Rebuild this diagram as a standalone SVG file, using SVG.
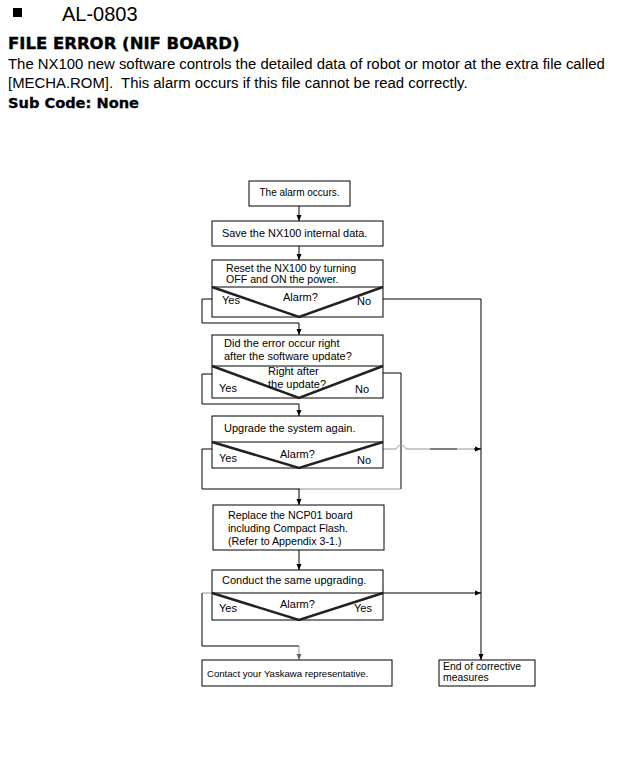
<svg xmlns="http://www.w3.org/2000/svg" width="644" height="760" viewBox="0 0 644 760">
<style>
  .t { font-family: "Liberation Sans", Arial, sans-serif; fill: #000; }
  .lb { font-family: "Liberation Sans", Arial, sans-serif; font-size: 11px; fill: #000; }
  .body { font-family: "Liberation Sans", Arial, sans-serif; font-size: 14.9px; fill: #000; }
  .hd { font-family: "DejaVu Sans", "Liberation Sans", sans-serif; font-weight: bold; fill: #000; }
  .box { fill: #fff; stroke: #000; stroke-width: 1; }
  .v { fill: none; stroke: #222; stroke-width: 2.5; stroke-linejoin: miter; }
  .ln { fill: none; stroke: #000; stroke-width: 1; }
  .gr { fill: none; stroke: #999; stroke-width: 1; }
</style>
<defs>
  <marker id="ah" markerUnits="userSpaceOnUse" markerWidth="6" markerHeight="6" refX="6" refY="3" orient="auto">
    <path d="M0,0.5 L6,3 L0,5.5 z" fill="#000"/>
  </marker>
  <marker id="ahg" markerUnits="userSpaceOnUse" markerWidth="6" markerHeight="6" refX="6" refY="3" orient="auto">
    <path d="M0,0.5 L6,3 L0,5.5 z" fill="#666"/>
  </marker>
</defs>
<rect width="644" height="760" fill="#fff"/>

<g id="header">
  <rect x="13" y="8" width="9" height="9" fill="#000"/>
  <text x="62" y="21" font-family="Liberation Sans, Arial, sans-serif" font-size="20">AL-0803</text>
  <text class="hd" x="8" y="49" font-size="16.5" stroke="#000" stroke-width="0.4">FILE ERROR (NIF BOARD)</text>
  <text class="body" x="8" y="69">The NX100 new software controls the detailed data of robot or motor at the extra file called</text>
  <text class="body" x="8" y="88" xml:space="preserve">[MECHA.ROM].  This alarm occurs if this file cannot be read correctly.</text>
  <text class="hd" x="8" y="108" font-size="14.6" stroke="#000" stroke-width="0.3">Sub Code: None</text>
</g>

<g id="connectors">
  <path class="ln" d="M299,206 V221" marker-end="url(#ah)"/>
  <path class="ln" d="M299,246 V260" marker-end="url(#ah)"/>
  <path class="ln" d="M212,299 H202 V323 H299 V335" marker-end="url(#ah)"/>
  <path class="ln" d="M383,299 H481 V660" marker-end="url(#ah)"/>
  <path class="ln" d="M212,374 H202 V404 H299 V416" marker-end="url(#ah)"/>
  <path class="ln" d="M383,373 H401 V489"/>
  <path class="ln" d="M212,449 H202 V489 H300"/>
  <path class="gr" d="M300,489 H401"/>
  <path class="ln" d="M299,489 V505" marker-end="url(#ah)"/>
  <path class="gr" d="M383,449 H396 C398,444 404,444 406,449 H430"/>
  <path class="ln" d="M430,449 H457"/>
  <path class="gr" d="M457,449 H475"/>
  <path class="ln" d="M474,449 H481" marker-end="url(#ah)"/>
  <path class="ln" d="M299,550 V570" marker-end="url(#ah)"/>
  <path class="ln" d="M383,593 H481" marker-end="url(#ah)"/>
  <path class="gr" d="M212,593 H202"/>
  <path class="ln" d="M202,593 V646 H299"/>
  <path class="gr" d="M299,646 V660" marker-end="url(#ahg)"/>
</g>

<g id="n1">
  <rect class="box" x="249" y="181" width="101" height="25"/>
  <text class="t" x="299.5" y="196" text-anchor="middle" style="font-size:10px">The alarm occurs.</text>
</g>
<g id="n2">
  <rect class="box" x="212" y="221" width="171" height="25"/>
  <text class="t" x="222" y="237" style="font-size:10.9px">Save the NX100 internal data.</text>
</g>
<g id="n3">
  <rect class="box" x="212" y="260" width="171" height="57"/>
  <line class="ln" x1="212" y1="287" x2="383" y2="287"/>
  <path class="v" d="M212,287 L299,317 L383,287"/>
  <text class="t" x="226" y="272" style="font-size:10.6px">Reset the NX100 by turning</text>
  <text class="t" x="226" y="283" style="font-size:10.6px">OFF and ON the power.</text>
  <text class="lb" x="222" y="304">Yes</text>
  <text class="lb" x="283" y="301">Alarm?</text>
  <text class="lb" x="357" y="305">No</text>
</g>
<g id="n4">
  <rect class="box" x="212" y="335" width="171" height="63"/>
  <line class="ln" x1="212" y1="366" x2="383" y2="366"/>
  <path class="v" d="M212,366 L299,398 L383,366"/>
  <text class="t" x="224" y="347" style="font-size:11px">Did the error occur right</text>
  <text class="t" x="224" y="360" style="font-size:11px">after the software update?</text>
  <text class="lb" x="268" y="375">Right after</text>
  <text class="lb" x="268" y="388">the update?</text>
  <text class="lb" x="219" y="392">Yes</text>
  <text class="lb" x="355" y="393">No</text>
</g>
<g id="n5">
  <rect class="box" x="212" y="416" width="171" height="52"/>
  <line class="ln" x1="212" y1="442" x2="383" y2="442"/>
  <path class="v" d="M212,442 L299,468 L383,442"/>
  <text class="t" x="224" y="432" style="font-size:11px">Upgrade the system again.</text>
  <text class="lb" x="219" y="462">Yes</text>
  <text class="lb" x="280" y="458">Alarm?</text>
  <text class="lb" x="357" y="464">No</text>
</g>
<g id="n6">
  <rect class="box" x="213" y="505" width="171" height="45"/>
  <text class="t" x="228" y="519" style="font-size:10.7px">Replace the NCP01 board</text>
  <text class="t" x="228" y="532" style="font-size:10.7px">including Compact Flash.</text>
  <text class="t" x="228" y="545" style="font-size:10.7px">(Refer to Appendix 3-1.)</text>
</g>
<g id="n7">
  <rect class="box" x="212" y="570" width="171" height="50"/>
  <line class="ln" x1="212" y1="593" x2="383" y2="593"/>
  <path class="v" d="M212,593 L299,620 L383,593"/>
  <text class="t" x="222" y="584" style="font-size:11px">Conduct the same upgrading.</text>
  <text class="lb" x="219" y="612">Yes</text>
  <text class="lb" x="280" y="608">Alarm?</text>
  <text class="lb" x="354" y="612">Yes</text>
</g>
<g id="n8">
  <rect class="box" x="202" y="660" width="190" height="26"/>
  <text class="t" x="207" y="677" style="font-size:9.6px">Contact your Yaskawa representative.</text>
</g>
<g id="n9">
  <rect class="box" x="439" y="660" width="96" height="26"/>
  <text class="t" x="443" y="670" style="font-size:10.4px">End of corrective</text>
  <text class="t" x="443" y="681" style="font-size:10.4px">measures</text>
</g>
</svg>
